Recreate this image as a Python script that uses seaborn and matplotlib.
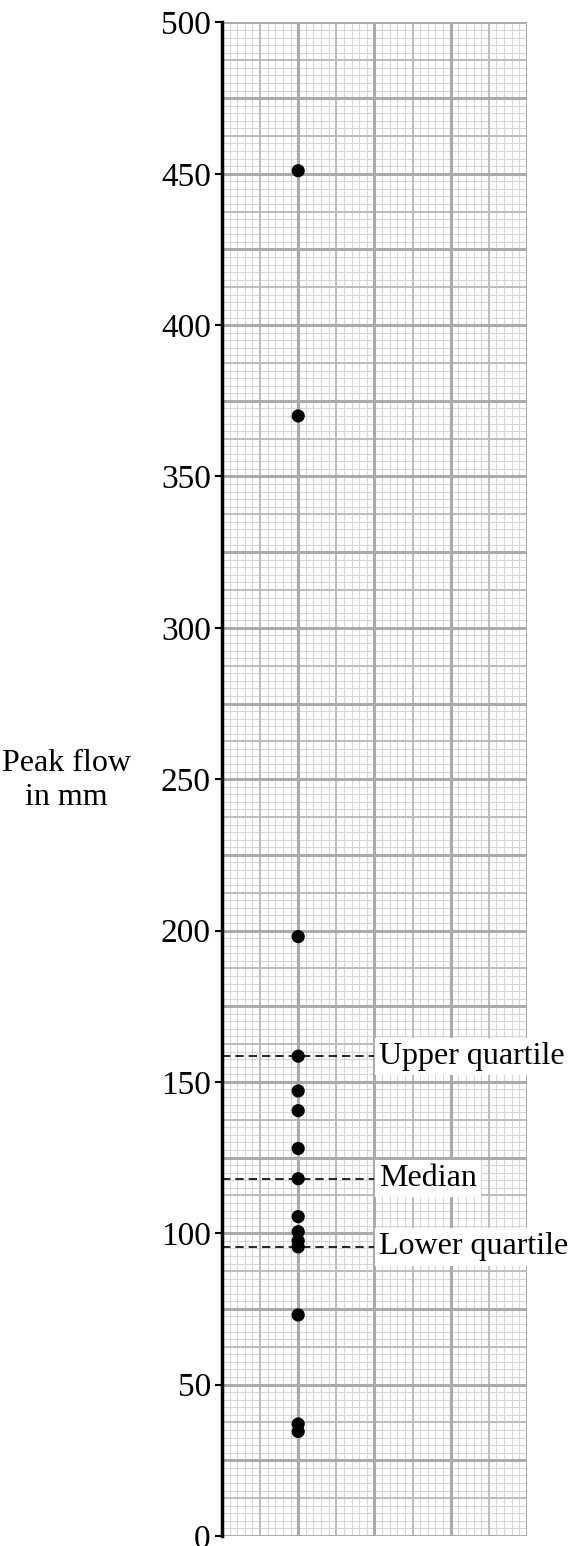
import numpy as np
import pandas as pd
import matplotlib
matplotlib.use('Agg')
import matplotlib.pyplot as plt
import seaborn as sns

# Peak flow readings (mm)
peak_flow = [451, 370, 198, 158.5, 147, 140.5, 128, 118,
             105.5, 100.5, 97.5, 95.5, 73, 37, 34.5]
quartile_names = ['Upper quartile', 'Median', 'Lower quartile']
quartile_values = [158.5, 118, 95.5]
y_ticks = [0, 50, 100, 150, 200, 250, 300, 350, 400, 450, 500]

df = pd.DataFrame({'x': 25, 'flow': peak_flow})

sns.set_theme(style='white')
plt.rcParams['font.family'] = ['Liberation Serif', 'DejaVu Serif']
plt.rcParams['text.color'] = 'black'

fig = plt.figure(figsize=(5.72, 15.46), dpi=100)
ax = fig.add_axes([0.388, 0.0065, 0.5333, 0.979])

# graph paper: fine / medium / heavy lines
for step, lw, col in [(2.5, 0.8, '#d6d6d6'), (12.5, 1.4, '#bdbdbd'), (25, 2.2, '#ababab')]:
    ax.hlines(np.arange(0, 500 + 0.01, step), 0, 100, colors=col, linewidth=lw, zorder=1)
    ax.vlines(np.arange(0, 100 + 0.01, step), 0, 500, colors=col, linewidth=lw, zorder=1)

# quartile markers
for name, val in zip(quartile_names, quartile_values):
    ax.plot([0, 50], [val, val], color='black', linestyle=(0, (5, 3)), linewidth=1.2, zorder=3)
    ax.text(51.5, val, name, fontsize=23, va='center', ha='left', clip_on=False, zorder=5,
            color='black', bbox=dict(facecolor='white', edgecolor='none', pad=3))

sns.scatterplot(data=df, x='x', y='flow', ax=ax, color='black', s=90,
                edgecolor='none', zorder=4, legend=False)

ax.set_xlim(0, 100)
ax.set_ylim(0, 500)
ax.set_xticks([])
ax.set_yticks(y_ticks)
ax.set_yticklabels([str(t) for t in y_ticks], fontsize=24)
ax.tick_params(axis='y', direction='out', length=5, width=1.5, pad=3, left=True,
               colors='black', labelcolor='black')
ax.set_xlabel('')
ax.set_ylabel('Peak flow\nin mm', fontsize=23, rotation=0, labelpad=0,
              linespacing=1.25, color='black')
ax.yaxis.set_label_coords(-0.51, 0.478)

for side in ['top', 'right', 'bottom']:
    ax.spines[side].set_visible(False)
ax.spines['left'].set_color('black')
ax.spines['left'].set_linewidth(2.5)
ax.spines['left'].set_zorder(6)

plt.savefig('out.png', dpi=100)
plt.close()
